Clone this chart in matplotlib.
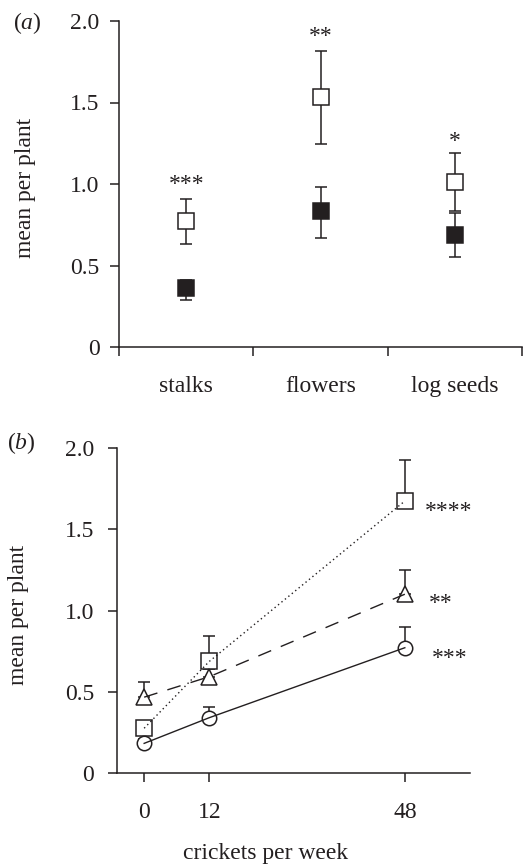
import matplotlib
matplotlib.use("Agg")
import matplotlib.pyplot as plt
import numpy as np

plt.rcParams['font.family'] = ['Liberation Serif', 'DejaVu Serif']
plt.rcParams['mathtext.fontset'] = 'custom'
plt.rcParams['mathtext.rm'] = 'Liberation Serif'
plt.rcParams['mathtext.it'] = 'Liberation Serif:italic'

INK = '#231f20'

# ---- panel (a) data ----
categories = ['stalks', 'flowers', 'log seeds']
open_mean = [0.773, 1.536, 1.014]
open_upper = [0.908, 1.818, 1.190]
open_lower = [0.632, 1.247, 0.836]
filled_mean = [0.364, 0.832, 0.685]
filled_upper = [0.412, 0.982, 0.820]
filled_lower = [0.288, 0.670, 0.552]
sig_a = ['***', '**', '*']
sig_a_y = [0.963, 1.871, 1.227]

# ---- panel (b) data ----
crickets = [0, 12, 48]
sq_mean = [0.277, 0.688, 1.674]
sq_up = [0.310, 0.846, 1.926]
tri_mean = [0.468, 0.594, 1.101]
tri_up = [0.563, 0.640, 1.248]
circ_mean = [0.184, 0.342, 0.772]
circ_up = [0.210, 0.410, 0.900]
sig_b = ['****', '**', '***']
sig_b_x = [56.1, 54.7, 56.2]
sig_b_y = [1.575, 1.012, 0.674]

W, H = 528, 868
fig = plt.figure(figsize=(W / 100, H / 100), dpi=100)

ax1 = fig.add_axes([119 / W, 1 - 347 / H, (522 - 119) / W, (347 - 21) / H])
ax2 = fig.add_axes([117 / W, 1 - 773.3 / H, (470 - 117) / W, (773.3 - 448) / H])

for ax in (ax1, ax2):
    for s in ('top', 'right'):
        ax.spines[s].set_visible(False)
    for s in ('left', 'bottom'):
        ax.spines[s].set_linewidth(1.1)
        ax.spines[s].set_color(INK)
    ax.set_ylim(0, 2.0)
    ax.set_yticks([0, 0.5, 1.0, 1.5, 2.0])
    ax.set_yticklabels(['0', '0.5', '1.0', '1.5', '2.0'])
    ax.tick_params(axis='both', which='major', direction='out', length=6.5,
                   width=1.1, color=INK, labelcolor=INK, labelsize=17)
    ax.patch.set_visible(False)

# ---- panel (a) ----
xpos = np.arange(len(categories)) + 0.5
om = np.array(open_mean)
fm = np.array(filled_mean)
ax1.errorbar(xpos, om, yerr=[om - np.array(open_lower), np.array(open_upper) - om],
             fmt='none', ecolor=INK, elinewidth=1.1, capsize=4.3, capthick=1.1, zorder=2)
ax1.errorbar(xpos, fm, yerr=[fm - np.array(filled_lower), np.array(filled_upper) - fm],
             fmt='none', ecolor=INK, elinewidth=1.1, capsize=4.3, capthick=1.1, zorder=2)
ax1.plot(xpos, om, linestyle='none', marker='s', markersize=11.5,
         markerfacecolor='white', markeredgecolor=INK, markeredgewidth=1.1, zorder=3)
ax1.plot(xpos, fm, linestyle='none', marker='s', markersize=11.5,
         markerfacecolor=INK, markeredgecolor=INK, markeredgewidth=1.1, zorder=3)
for x, s, y in zip(xpos, sig_a, sig_a_y):
    ax1.text(x, y, s, ha='center', va='baseline', fontsize=17, color=INK)

ax1.set_xlim(0, 3)
ax1.set_xticks([0, 1, 2, 3])
ax1.set_xticklabels([])
ax1.set_xticks(xpos, minor=True)
ax1.set_xticklabels(categories, minor=True)
ax1.tick_params(axis='x', which='minor', length=0, pad=21, labelsize=17, labelcolor=INK)
ax1.tick_params(axis='y', pad=7.5)

# ---- panel (b) ----
ax2.set_xlim(-5, 60)
ax2.set_xticks(crickets)
ax2.set_xticklabels([str(c) for c in crickets])
ax2.tick_params(axis='x', pad=14)
ax2.tick_params(axis='y', pad=10)

series = [
    (sq_mean, sq_up, 's', 11.5, (0, (1, 2.2))),
    (tri_mean, tri_up, '^', 11.5, (0, (10, 7.5))),
    (circ_mean, circ_up, 'o', 10.4, '-'),
]
for mean, up, mk, ms, ls in series:
    m = np.array(mean)
    u = np.array(up)
    ax2.errorbar(crickets, m, yerr=[np.zeros_like(m), u - m], fmt='none',
                 ecolor=INK, elinewidth=1.1, capsize=4.3, capthick=1.1, zorder=2)
for mean, up, mk, ms, ls in series:
    ax2.plot(crickets, mean, linestyle='none', marker=mk, markersize=ms,
             markerfacecolor='white', markeredgecolor=INK, markeredgewidth=1.1, zorder=3)
for mean, up, mk, ms, ls in series:
    ax2.plot(crickets, mean, linestyle=ls, color=INK, linewidth=1.0, zorder=4)
for x, s, y in zip(sig_b_x, sig_b, sig_b_y):
    ax2.text(x, y, s, ha='center', va='baseline', fontsize=17, color=INK, clip_on=False)

# ---- labels ----
fig.text(26 / W, 1 - 188 / H, 'mean per plant', rotation=90, ha='center', va='center',
         fontsize=17, color=INK)
fig.text(19 / W, 1 - 615 / H, 'mean per plant', rotation=90, ha='center', va='center',
         fontsize=17, color=INK)
fig.text(266 / W, 1 - 853 / H, 'crickets per week', ha='center', va='center',
         fontsize=17, color=INK)
fig.text(27 / W, 1 - 23 / H, r'($\mathit{a}$)', ha='center', va='center', fontsize=17, color=INK)
fig.text(21 / W, 1 - 443 / H, r'($\mathit{b}$)', ha='center', va='center', fontsize=17, color=INK)

fig.savefig('out.png', dpi=100)
